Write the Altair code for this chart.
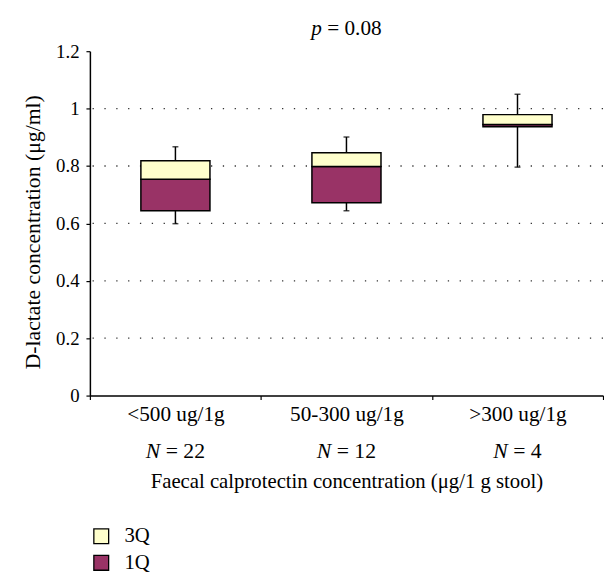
import altair as alt
import pandas as pd

# ---- data ----
categories = ["<500 ug/1g", "50-300 ug/1g", ">300 ug/1g"]
n_values = ["22", "12", "4"]
whisker_low = [0.599, 0.644, 0.796]
q1 = [0.644, 0.672, 0.937]
median = [0.754, 0.798, 0.945]
q3 = [0.818, 0.846, 0.979]
whisker_high = [0.867, 0.901, 1.050]
legend_labels = ["3Q", "1Q"]
legend_colors = ["#FFFFCC", "#993366"]
y_ticks = [0, 0.2, 0.4, 0.6, 0.8, 1.0, 1.2]
grid_values = [0.2, 0.4, 0.6, 0.8, 1.0]
p_text = "0.08"
x_title = "Faecal calprotectin concentration (μg/1 g stool)"
y_title = "D-lactate concentration (μg/ml)"

FONT = "Liberation Serif"
FS_LAB = 21.5   # category labels
FS_N = 22       # "N = .." line
FS_XT = 21      # x title
FS_YT = 22      # y title
FS_P = 21.5     # p value title
FS_LEG = 21
FS_TICK = 19
W, H = 520, 349

box_df = pd.DataFrame({"cat": categories, "lo": whisker_low, "hi": whisker_high})
parts_df = pd.DataFrame({
    "cat": categories * 2,
    "part": ["1Q"] * 3 + ["3Q"] * 3,
    "start": q1 + median,
    "end": median + q3,
})
grid_df = pd.DataFrame({"v": grid_values})

x_scale = alt.Scale(domain=categories, paddingInner=0, paddingOuter=0)
x_axis = alt.Axis(
    title=x_title, labelAngle=0, tickBand="extent", tickSize=4, tickColor="black",
    domainColor="black", domainWidth=1.5, tickWidth=1.2,
    labelFont=FONT, labelFontSize=FS_LAB, labelColor="black", labelPadding=21,
    labelBaseline="alphabetic", labelOverlap=False, labelLimit=300,
    titleFont=FONT, titleFontSize=FS_XT, titleFontWeight="normal", titleColor="black",
    titleBaseline="alphabetic", titleY=93, titleLimit=600, grid=False,
)
y_scale = alt.Scale(domain=[0, 1.2], nice=False, zero=True)
y_axis = alt.Axis(
    title=y_title, values=y_ticks, format=".1~f", grid=False, tickSize=4,
    tickColor="black", domainColor="black", domainWidth=1.5, tickWidth=1.2,
    labelFont=FONT, labelFontSize=FS_TICK, labelColor="black", labelPadding=7,
    titleFont=FONT, titleFontSize=FS_YT, titleFontWeight="normal", titleColor="black",
    titleBaseline="alphabetic", titleAngle=270, titleAlign="center",
    titleX=-51, titleY=183, titleLimit=600,
)

def xe():
    return alt.X("cat:N", sort=categories, scale=x_scale, axis=x_axis)

grid = alt.Chart(grid_df).mark_rule(
    color="#333333", strokeWidth=1.3, strokeDash=[1.3, 10.7], strokeDashOffset=0
).encode(y=alt.Y("v:Q", scale=y_scale, axis=y_axis))

whisk = alt.Chart(box_df).mark_rule(color="black", strokeWidth=1.5).encode(
    x=xe(), y=alt.Y("lo:Q", scale=y_scale, axis=y_axis), y2="hi:Q"
)
cap_lo = alt.Chart(box_df).mark_tick(color="black", size=6, thickness=1.5).encode(
    x=xe(), y=alt.Y("lo:Q", scale=y_scale, axis=y_axis)
)
cap_hi = alt.Chart(box_df).mark_tick(color="black", size=6, thickness=1.5).encode(
    x=xe(), y=alt.Y("hi:Q", scale=y_scale, axis=y_axis)
)

bars = alt.Chart(parts_df).mark_bar(size=70, stroke="black", strokeWidth=1.5).encode(
    x=xe(),
    y=alt.Y("start:Q", scale=y_scale, axis=y_axis),
    y2="end:Q",
    color=alt.Color(
        "part:N",
        scale=alt.Scale(domain=legend_labels, range=legend_colors),
        legend=alt.Legend(
            title=None, orient="none", legendX=1, legendY=481, direction="vertical",
            symbolType="square", symbolSize=225, symbolStrokeColor="black",
            symbolStrokeWidth=1.3, symbolOpacity=1,
            labelFont=FONT, labelFontSize=FS_LEG, labelColor="black", labelOffset=13,
            rowPadding=5, padding=0,
        ),
    ),
)

# "N = xx" second label line, N in italics
layers = [grid, whisk, cap_lo, cap_hi, bars]
for cat, n in zip(categories, n_values):
    total = (0.667 + 0.25 + 0.564 + 0.25 + 0.5 * len(n)) * FS_N
    n_end = -total / 2 + 0.667 * FS_N
    rest_start = n_end + 0.25 * FS_N
    d = pd.DataFrame({"cat": [cat], "a": ["N"], "b": ["= " + n]})
    layers.append(
        alt.Chart(d).mark_text(font=FONT, fontSize=FS_N, fontStyle="italic", align="right",
                               baseline="alphabetic", color="black", dx=n_end)
        .encode(x=xe(), y=alt.value(412), text="a:N")
    )
    layers.append(
        alt.Chart(d).mark_text(font=FONT, fontSize=FS_N, align="left",
                               baseline="alphabetic", color="black", dx=rest_start)
        .encode(x=xe(), y=alt.value(412), text="b:N")
    )

# title "p = 0.08", p in italics
ptot = (0.5 + 0.25 + 0.564 + 0.25 + 1.75) * FS_P
p_end = W / 2 - ptot / 2 + 0.5 * FS_P
pd_df = pd.DataFrame({"a": ["p"], "b": ["= " + p_text]})
layers.append(
    alt.Chart(pd_df).mark_text(font=FONT, fontSize=FS_P, fontStyle="italic", align="right",
                               baseline="alphabetic", color="black")
    .encode(x=alt.value(p_end), y=alt.value(-16), text="a:N")
)
layers.append(
    alt.Chart(pd_df).mark_text(font=FONT, fontSize=FS_P, align="left",
                               baseline="alphabetic", color="black")
    .encode(x=alt.value(p_end + 0.25 * FS_P), y=alt.value(-16), text="b:N")
)

chart = alt.layer(*layers).properties(
    width=W, height=H,
    autosize=alt.AutoSizeParams(type="none"),
    padding={"left": 83, "top": 40, "right": 1, "bottom": 175},
    background="white",
).configure_view(stroke=None)

chart.save("out.html", embed_options={"renderer": "svg", "actions": False})
